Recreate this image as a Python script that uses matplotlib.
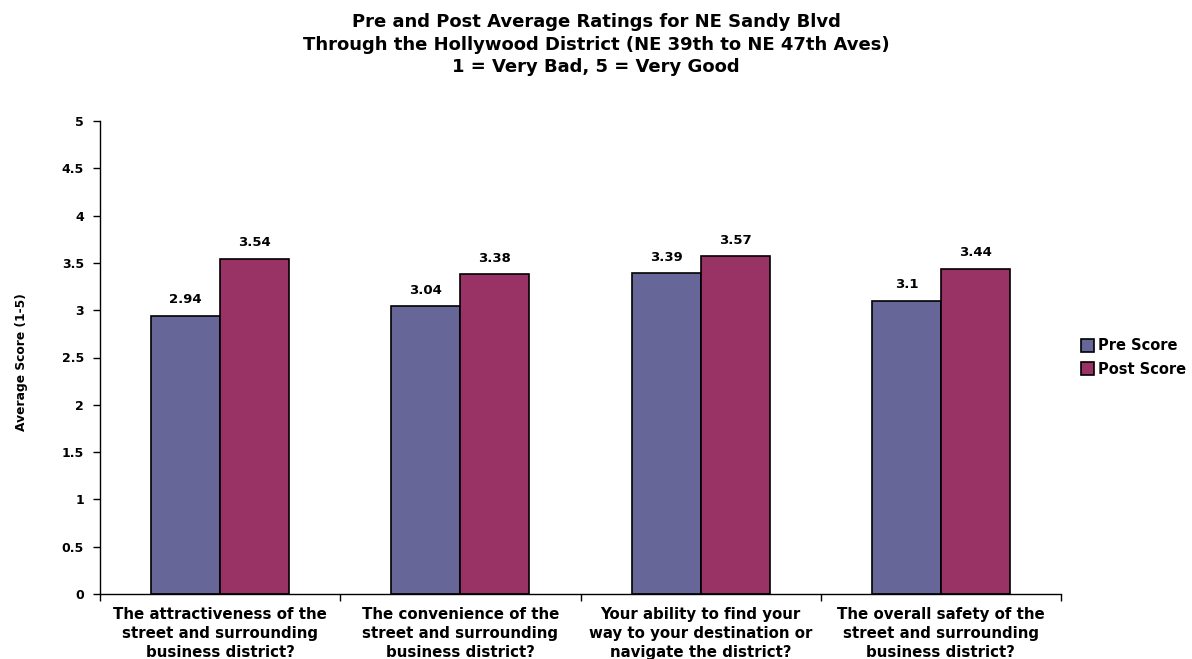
import matplotlib
matplotlib.use("Agg")
import matplotlib.pyplot as plt
import numpy as np

categories = [
    "The attractiveness of the\nstreet and surrounding\nbusiness district?",
    "The convenience of the\nstreet and surrounding\nbusiness district?",
    "Your ability to find your\nway to your destination or\nnavigate the district?",
    "The overall safety of the\nstreet and surrounding\nbusiness district?",
]
pre_scores = [2.94, 3.04, 3.39, 3.1]
post_scores = [3.54, 3.38, 3.57, 3.44]
pre_labels = ["2.94", "3.04", "3.39", "3.1"]
post_labels = ["3.54", "3.38", "3.57", "3.44"]
yticks = [0, 0.5, 1, 1.5, 2, 2.5, 3, 3.5, 4, 4.5, 5]
ytick_labels = ["0", "0.5", "1", "1.5", "2", "2.5", "3", "3.5", "4", "4.5", "5"]
series_names = ["Pre Score", "Post Score"]
title_text = ("Pre and Post Average Ratings for NE Sandy Blvd\n"
              "Through the Hollywood District (NE 39th to NE 47th Aves)\n"
              "1 = Very Bad, 5 = Very Good")
ylabel_text = "Average Score (1-5)"

plt.rcParams['font.family'] = ['DejaVu Sans']
plt.rcParams['font.weight'] = 'bold'

W, H = 1192, 659
fig = plt.figure(figsize=(W / 100, H / 100), dpi=100)
ax = fig.add_axes([100 / W, 65 / H, 961 / W, 473 / H])

x = np.arange(len(categories))
w = 0.2875
pre_color = "#666699"
post_color = "#993366"
b1 = ax.bar(x - w / 2, pre_scores, w, color=pre_color, edgecolor="black", linewidth=1.2, label=series_names[0])
b2 = ax.bar(x + w / 2, post_scores, w, color=post_color, edgecolor="black", linewidth=1.2, label=series_names[1])
for bars, labs in ((b1, pre_labels), (b2, post_labels)):
    for rect, lab in zip(bars, labs):
        ax.annotate(lab, (rect.get_x() + rect.get_width() / 2, rect.get_height()), xytext=(0, 7),
                    textcoords="offset points", ha="center", va="bottom",
                    fontsize=9.5, fontweight="bold")

ax.set_xlim(-0.5, len(categories) - 0.5)
ax.set_ylim(0, 5)
ax.set_yticks(yticks)
ax.set_yticklabels(ytick_labels, fontsize=9, fontweight="bold")
ax.set_xticks(np.arange(-0.5, len(categories), 1.0))
ax.set_xticklabels([])
ax.set_xticks(x, minor=True)
ax.set_xticklabels(categories, minor=True, fontsize=10.8, fontweight="bold", linespacing=1.33)
ax.tick_params(axis="x", which="minor", length=0, pad=9.5)
ax.tick_params(axis="x", which="major", length=5, direction="out", width=1)
ax.tick_params(axis="y", length=5, direction="out", width=1, pad=6.5)
for s in ["top", "right"]:
    ax.spines[s].set_visible(False)
for s in ["left", "bottom"]:
    ax.spines[s].set_linewidth(1)

fig.text(22 / W, 1 - 362 / H, ylabel_text, rotation=90, ha="center", va="center",
         fontsize=8.8, fontweight="bold")

fig.text(0.5, 1 - 44.5 / H, title_text, ha="center", va="center",
         fontsize=13, fontweight="bold", linespacing=1.3)

fig.legend(handles=[b1, b2], loc="center left", bbox_to_anchor=(1081 / W, 1 - 357.5 / H),
           frameon=False, fontsize=10.5, handlelength=0.9, handleheight=0.9,
           handletextpad=0.25, labelspacing=0.55, borderaxespad=0, borderpad=0)

fig.savefig("out.png", dpi=100)
